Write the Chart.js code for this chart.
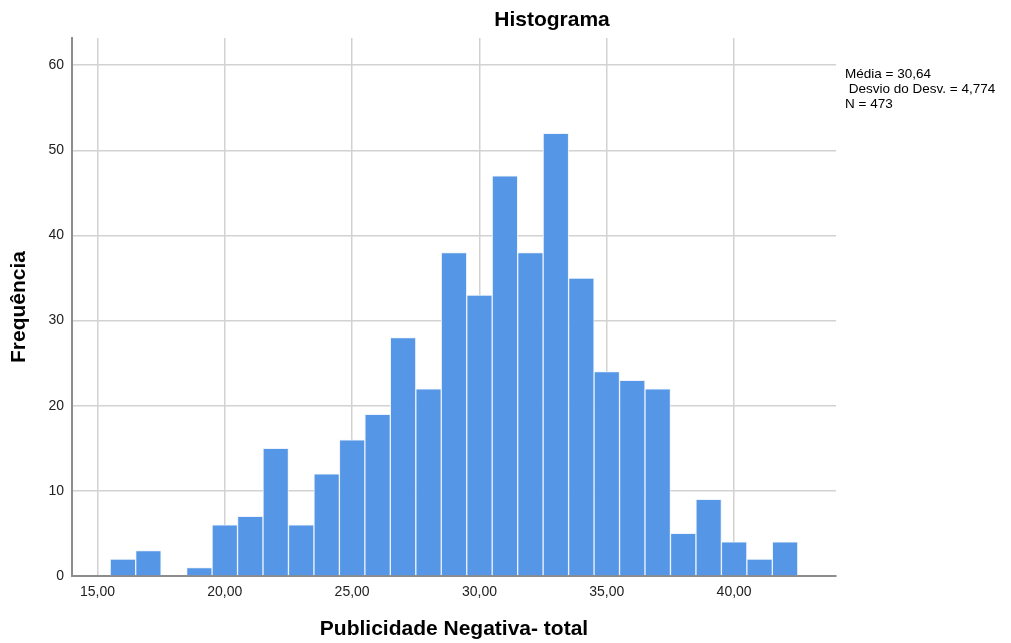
<!DOCTYPE html>
<html>
<head>
<meta charset="utf-8">
<title>Histograma</title>
<script src="https://cdn.jsdelivr.net/npm/chart.js@4/dist/chart.umd.min.js"></script>
<style>
  html, body { margin: 0; padding: 0; background: #fff; }
  #wrap { width: 1011px; height: 643px; }
</style>
</head>
<body>
<div id="wrap"><canvas id="hist"></canvas></div>
<script>
// Bin centres (width 1) and frequencies
const binCenters = [16, 17, 18, 19, 20, 21, 22, 23, 24, 25, 26, 27, 28, 29,
  30, 31, 32, 33, 34, 35, 36, 37, 38, 39, 40, 41, 42];
const frequencies = [2, 3, 0, 1, 6, 7, 15, 6, 12, 16, 19, 28, 22, 38,
  33, 47, 38, 52, 35, 24, 23, 22, 5, 9, 4, 2, 4];

const xTicks = [15, 20, 25, 30, 35, 40];
const yTicks = [0, 10, 20, 30, 40, 50, 60];

const statsLines = ['Média = 30,64', ' Desvio do Desv. = 4,774', 'N = 473'];

const FONT = '"Liberation Sans", Arial, sans-serif';

// Title and the stats box are drawn on top of the chart
const extraText = {
  id: 'extraText',
  afterDraw(chart) {
    const ctx = chart.ctx;
    ctx.save();
    ctx.fillStyle = '#000';
    ctx.textBaseline = 'middle';
    ctx.font = 'bold 21px ' + FONT;
    ctx.textAlign = 'center';
    ctx.fillText('Histograma', 552, 20);

    ctx.font = '13.5px ' + FONT;
    ctx.textAlign = 'left';
    statsLines.forEach((line, i) => {
      ctx.fillText(line, 845, 74 + i * 15);
    });
    ctx.restore();
  }
};

new Chart(document.getElementById('hist'), {
  type: 'bar',
  data: {
    datasets: [{
      label: 'Frequência',
      data: binCenters.map((c, i) => ({ x: c, y: frequencies[i] })),
      backgroundColor: 'rgb(85, 150, 230)',
      borderColor: 'rgba(235, 242, 252, 0.9)',
      borderWidth: 1,
      borderSkipped: 'bottom',
      barPercentage: 1,
      categoryPercentage: 1
    }]
  },
  options: {
    responsive: true,
    maintainAspectRatio: false,
    animation: false,
    layout: { padding: { top: 38, right: 175, left: 0, bottom: 0 } },
    plugins: {
      legend: { display: false },
      tooltip: { enabled: false }
    },
    scales: {
      x: {
        type: 'linear',
        min: 14,
        max: 44,
        offset: false,
        afterBuildTicks: (scale) => { scale.ticks = xTicks.map(v => ({ value: v })); },
        afterFit: (scale) => { scale.height = 67; },
        grid: { color: '#d2d2d2', lineWidth: 1.5, drawTicks: false, offset: false },
        border: { color: '#8c8c8c', width: 2 },
        ticks: {
          padding: 8,
          color: '#222',
          font: { family: FONT, size: 14 },
          maxRotation: 0,
          callback: (v) => v.toFixed(2).replace('.', ',')
        },
        title: {
          display: true,
          text: 'Publicidade Negativa- total',
          color: '#000',
          font: { family: FONT, size: 21, weight: 'bold' },
          padding: { top: 0, bottom: 1 }
        }
      },
      y: {
        min: 0,
        max: 63.2,
        afterBuildTicks: (scale) => { scale.ticks = yTicks.map(v => ({ value: v })); },
        afterFit: (scale) => { scale.width = 72; },
        grid: { color: '#d2d2d2', lineWidth: 1.5, drawTicks: false },
        border: { color: '#8c8c8c', width: 2 },
        ticks: {
          padding: 8,
          color: '#222',
          font: { family: FONT, size: 14 },
          callback: (v) => String(v)
        },
        title: {
          display: true,
          text: 'Frequência',
          color: '#000',
          font: { family: FONT, size: 21, weight: 'bold' },
          padding: { top: 7, bottom: 0 }
        }
      }
    }
  },
  plugins: [extraText]
});
</script>
</body>
</html>
